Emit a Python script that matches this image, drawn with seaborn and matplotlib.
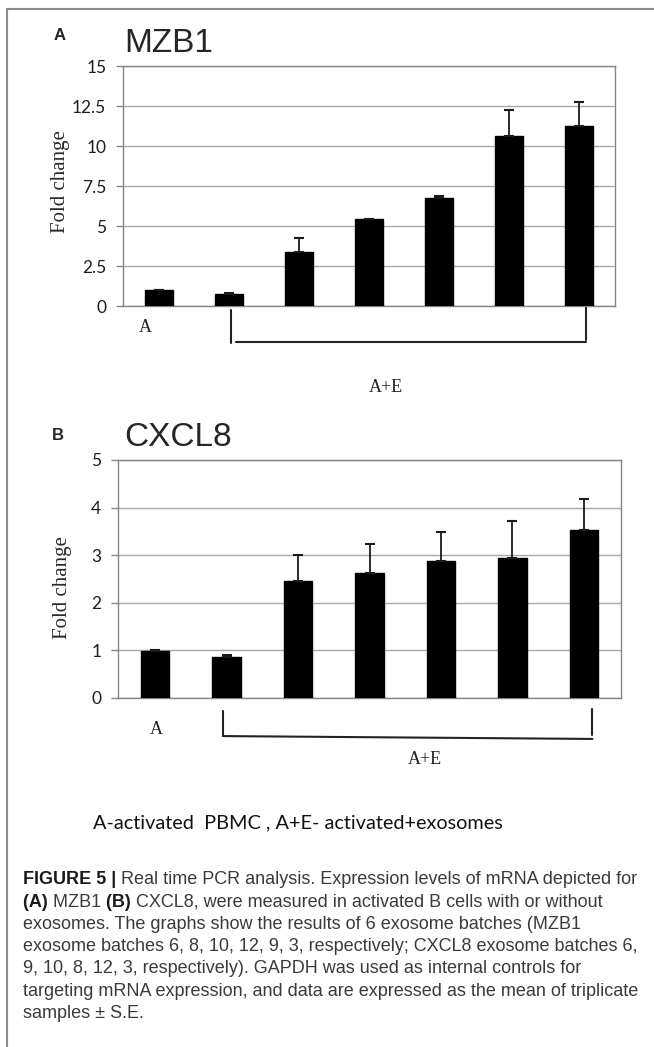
import numpy as np
import pandas as pd
import seaborn as sns
import matplotlib.pyplot as plt
from matplotlib.transforms import blended_transform_factory

# Data
groups = ["A", "A+E 1", "A+E 2", "A+E 3", "A+E 4", "A+E 5", "A+E 6"]
mzb1_mean = [0.97, 0.77, 3.35, 5.44, 6.74, 10.6, 11.28]
mzb1_se = [0.03, 0.05, 0.9, 0.0, 0.16, 1.62, 1.5]
cxcl8_mean = [0.99, 0.87, 2.45, 2.62, 2.88, 2.94, 3.52]
cxcl8_se = [0.01, 0.03, 0.56, 0.61, 0.61, 0.78, 0.66]
mzb1_ticks = [0, 2.5, 5, 7.5, 10, 12.5, 15]
mzb1_ticklabels = ["0", "2.5", "5", "7.5", "10", "12.5", "15"]
cxcl8_ticks = [0, 1, 2, 3, 4, 5]

sns.set_style("white")
plt.rcParams['font.family'] = ['Lato', 'DejaVu Sans']

W, H = 654, 1047
fig = plt.figure(figsize=(W / 100, H / 100), dpi=100)


def px_axes(left, top, right, bottom):
    return fig.add_axes([left / W, 1 - bottom / H, (right - left) / W, (bottom - top) / H])


def draw_panel(ax, means, se, ticks, ticklabels, ymax):
    df = pd.DataFrame({'group': groups, 'fold': means})
    sns.barplot(data=df, x='group', y='fold', color='black', saturation=1,
                width=0.4, edgecolor='black', ax=ax, zorder=3)
    # only the upper half of the S.E. is drawn
    ax.errorbar(np.arange(len(means)), means, yerr=[np.zeros(len(se)), se],
                fmt='none', ecolor='#1a1a1a', elinewidth=1.3, capsize=3.4,
                capthick=1.5, zorder=4)
    ax.set_ylim(0, ymax)
    ax.set_yticks(ticks)
    ax.set_yticklabels(ticklabels)
    ax.set_xticks([])
    ax.set_xlabel('')
    ax.set_ylabel('')
    ax.yaxis.grid(True, color='#a8a8a8', lw=1.0)
    ax.set_axisbelow(True)
    for s in ax.spines.values():
        s.set_color('#858585')
        s.set_linewidth(1.0)
    ax.tick_params(axis='y', direction='out', length=5, width=1, color='#858585',
                   labelsize=12.5, labelcolor='#1e1e1e', pad=7, left=True)


# Panel A
axA = px_axes(123, 66, 615, 306)
draw_panel(axA, mzb1_mean, mzb1_se, mzb1_ticks, mzb1_ticklabels, 15)
# Panel B
axB = px_axes(118, 460, 621, 698)
draw_panel(axB, cxcl8_mean, cxcl8_se, cxcl8_ticks, [str(t) for t in cxcl8_ticks], 5)

serif = ['Liberation Serif', 'DejaVu Serif']
arial = ['Liberation Sans', 'DejaVu Sans']

# y labels
fig.text(60 / W, 1 - 182 / H, 'Fold change', family=serif, fontsize=15,
         rotation=90, ha='center', va='center', color='#2a2a2a')
fig.text(62 / W, 1 - 588 / H, 'Fold change', family=serif, fontsize=15,
         rotation=90, ha='center', va='center', color='#2a2a2a')

# panel letters and titles
fig.text(60 / W, 1 - 35 / H, 'A', family=arial, fontweight='bold', fontsize=12,
         ha='center', va='center')
fig.text(124 / W, 1 - 43 / H, 'MZB1', family=arial, fontsize=24, ha='left', va='center')
fig.text(58 / W, 1 - 435 / H, 'B', family=arial, fontweight='bold', fontsize=12,
         ha='center', va='center')
fig.text(124 / W, 1 - 437 / H, 'CXCL8', family=arial, fontsize=24, ha='left', va='center')

# group brackets under the bars
trA = blended_transform_factory(axA.transData, axA.transAxes)
axA.plot([1.02, 1.02], [-0.017, -0.154], color='#222222', lw=1.5, transform=trA, clip_on=False)
axA.plot([1.1, 6.1], [-0.15, -0.15], color='#222222', lw=1.5, transform=trA, clip_on=False)
axA.plot([6.1, 6.1], [0.0, -0.142], color='#222222', lw=1.5, transform=trA, clip_on=False)
axA.text(-0.2, -0.088, 'A', family=serif, fontsize=13, ha='center', va='center',
         transform=trA, color='#222222')
axA.text(3.24, -0.34, 'A+E', family=serif, fontsize=13, ha='center', va='center',
         transform=trA, color='#222222')

trB = blended_transform_factory(axB.transData, axB.transAxes)
axB.plot([0.95, 0.95], [-0.055, -0.16], color='#222222', lw=1.5, transform=trB, clip_on=False)
axB.plot([0.95, 6.12], [-0.16, -0.172], color='#222222', lw=1.5, transform=trB, clip_on=False)
axB.plot([6.12, 6.12], [-0.046, -0.155], color='#222222', lw=1.5, transform=trB, clip_on=False)
axB.text(0.02, -0.134, 'A', family=serif, fontsize=13, ha='center', va='center',
         transform=trB, color='#222222')
axB.text(3.77, -0.26, 'A+E', family=serif, fontsize=13, ha='center', va='center',
         transform=trB, color='#222222')

# legend line
fig.text(93 / W, 1 - 823 / H, 'A-activated  PBMC , A+E- activated+exosomes',
         fontsize=14.3, ha='left', va='center', color='#111111')

# caption, bold runs placed by measuring the text before them
renderer = fig.canvas.get_renderer()
cap_fs = 13


def put_runs(runs, y):
    x = 23
    for txt, bold in runs:
        t = fig.text(x / W, 1 - y / H, txt, family=arial, fontsize=cap_fs,
                     fontweight='bold' if bold else 'normal',
                     color='#1a1a1a' if bold else '#3a3a3a', ha='left', va='center')
        x = x + t.get_window_extent(renderer).width


line_runs = [
    [("FIGURE 5 | ", True), ("Real time PCR analysis. Expression levels of mRNA depicted for", False)],
    [("(A) ", True), ("MZB1 ", False), ("(B) ", True),
     ("CXCL8, were measured in activated B cells with or without", False)],
    [("exosomes. The graphs show the results of 6 exosome batches (MZB1", False)],
    [("exosome batches 6, 8, 10, 12, 9, 3, respectively; CXCL8 exosome batches 6,", False)],
    [("9, 10, 8, 12, 3, respectively). GAPDH was used as internal controls for", False)],
    [("targeting mRNA expression, and data are expressed as the mean of triplicate", False)],
    [("samples \u00b1 S.E.", False)],
]
for i, runs in enumerate(line_runs):
    put_runs(runs, 880 + 22.2 * i)

# frame lines (top and left) around the figure panel
fig.add_artist(plt.Line2D([7 / W, 1], [1 - 9 / H, 1 - 9 / H], color='#8a8a8a', lw=1.5))
fig.add_artist(plt.Line2D([7 / W, 7 / W], [1 - 9 / H, 0], color='#8a8a8a', lw=1.5))

fig.savefig('out.png', dpi=100)
